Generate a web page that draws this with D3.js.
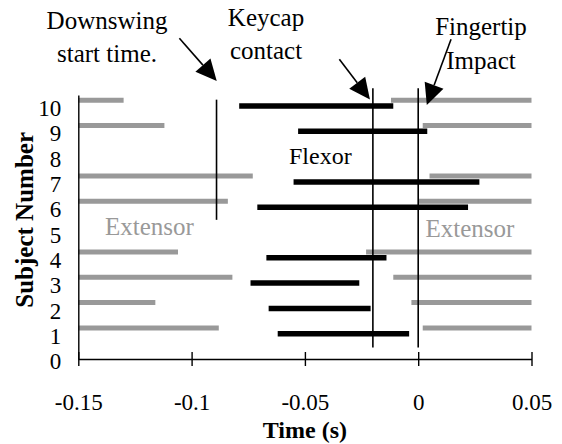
<!DOCTYPE html>
<html>
<head>
<meta charset="utf-8">
<script src="https://cdn.jsdelivr.net/npm/d3@7"></script>
<style>
  html, body { margin: 0; padding: 0; background: #fff; }
  svg { display: block; }
</style>
</head>
<body>
<script>
// ---------- data ----------
const subjects          = [10, 9, 7, 6, 4, 3, 2, 1];
const extensorEarlyEnd  = [-0.130, -0.112, -0.073, -0.084, -0.106, -0.082, -0.116, -0.088];
const flexorStart       = [-0.079, -0.053, -0.055, -0.071, -0.067, -0.074, -0.066, -0.062];
const flexorEnd         = [-0.011, 0.004, 0.027, 0.022, -0.014, -0.026, -0.021, -0.004];
const extensorLateStart = [-0.012, 0.002, 0.005, 0.000, -0.023, -0.011, -0.003, 0.002];

const xTicks = [-0.15, -0.1, -0.05, 0, 0.05];
const xTickLabels = ["-0.15", "-0.1", "-0.05", "0", "0.05"];
const yTicks = [0, 1, 2, 3, 4, 5, 6, 7, 8, 9, 10];

const eventNames = [["Downswing", "start time."], ["Keycap", "contact"], ["Fingertip", "Impact"]];
const eventTimes = [-0.089, -0.02, 0];
const eventLow   = [5.5, 0.45, 0.45];
const eventHigh  = [10.25, 10.7, 10.7];
// arrows: [fromX, fromY, toX, toY] in data units
const arrowFrom = [[-0.1054, 12.68], [-0.0348, 11.85], [0.0145, 12.64]];
const arrowTo   = [[-0.0889, 10.99], [-0.0213, 10.26], [0.0038, 10.04]];

const xMin = -0.15, xMax = 0.05, yMin = 0, yMax = 10.43;

// ---------- drawing ----------
const FONT = '"Liberation Serif", "Times New Roman", Times, serif';
const W = 562, H = 444;
const svg = d3.select("body").append("svg").attr("width", W).attr("height", H)
  .attr("font-family", FONT);

const x = d3.scaleLinear().domain([xMin, xMax]).range([78.3, 531.5]);
const y = d3.scaleLinear().domain([yMin, yMax]).range([359, 95.1]);

const GRAY = "#999999";
const extOffset = 0.23;

// extensor early bars
svg.append("g").selectAll("line").data(subjects).join("line")
  .attr("x1", x(xMin)).attr("x2", (d, i) => x(extensorEarlyEnd[i]))
  .attr("y1", d => y(d + extOffset)).attr("y2", d => y(d + extOffset))
  .attr("stroke", GRAY).attr("stroke-width", 5);

// extensor late bars
svg.append("g").selectAll("line").data(subjects).join("line")
  .attr("x1", (d, i) => x(extensorLateStart[i])).attr("x2", x(xMax))
  .attr("y1", d => y(d + extOffset)).attr("y2", d => y(d + extOffset))
  .attr("stroke", GRAY).attr("stroke-width", 5);

// flexor bars
svg.append("g").selectAll("line").data(subjects).join("line")
  .attr("x1", (d, i) => x(flexorStart[i])).attr("x2", (d, i) => x(flexorEnd[i]))
  .attr("y1", d => y(d)).attr("y2", d => y(d))
  .attr("stroke", "#000").attr("stroke-width", 5.5);

// event vertical lines
svg.append("g").selectAll("line").data(eventTimes).join("line")
  .attr("x1", d => x(d)).attr("x2", d => x(d))
  .attr("y1", (d, i) => y(eventLow[i])).attr("y2", (d, i) => y(eventHigh[i]))
  .attr("stroke", "#000").attr("stroke-width", 1.6);

// x axis
const xAxis = svg.append("g").attr("transform", `translate(0,${y(0)})`)
  .call(d3.axisBottom(x).tickValues(xTicks).tickFormat((d, i) => xTickLabels[i]).tickSizeOuter(0));
xAxis.attr("font-family", FONT);
xAxis.select(".domain").attr("stroke", "#000").attr("stroke-width", 1.4);
xAxis.selectAll(".tick line").attr("y1", -7).attr("y2", 7).attr("stroke", "#000").attr("stroke-width", 1.4);
xAxis.selectAll(".tick text").attr("y", 51).attr("dy", null)
  .attr("font-size", 23).attr("fill", "#000").attr("font-family", FONT);

// y axis
const yAxis = svg.append("g").attr("transform", `translate(${x(xMin)},0)`)
  .call(d3.axisLeft(y).tickValues(yTicks).tickSize(0).tickSizeOuter(0).tickPadding(17));
yAxis.attr("font-family", FONT);
yAxis.select(".domain").attr("stroke", "#000").attr("stroke-width", 1.4);
yAxis.selectAll(".tick text").attr("font-size", 23).attr("fill", "#000").attr("dy", "0.42em")
  .attr("font-family", FONT);

// axis titles
svg.append("text").attr("x", x(-0.05)).attr("y", 438).attr("text-anchor", "middle")
  .attr("font-family", FONT).attr("font-size", 24).attr("font-weight", "bold").text("Time (s)");
svg.append("text").attr("transform", `translate(33,${y(5.5)}) rotate(-90)`)
  .attr("text-anchor", "middle").attr("font-family", FONT).attr("font-size", 25).attr("font-weight", "bold")
  .text("Subject Number");

// series labels
svg.append("text").attr("x", 289).attr("y", 164).attr("font-family", FONT).attr("font-size", 24).attr("fill", "#000").text("Flexor");
svg.append("text").attr("x", 105).attr("y", 235).attr("font-family", FONT).attr("font-size", 25).attr("fill", GRAY).text("Extensor");
svg.append("text").attr("x", 425.5).attr("y", 236.5).attr("font-family", FONT).attr("font-size", 25).attr("fill", GRAY).text("Extensor");

// event annotations
const annotCenters = [107, 266, 481];
const annotBaselines = [[29, 62], [26, 59], [35, 69]];
eventNames.forEach((lines, i) => {
  lines.forEach((t, j) => {
    svg.append("text").attr("x", annotCenters[i]).attr("y", annotBaselines[i][j])
      .attr("text-anchor", "middle").attr("font-family", FONT).attr("font-size", 25).attr("fill", "#000").text(t);
  });
});

// arrows
arrowFrom.forEach((f, i) => {
  const x1 = x(f[0]), y1 = y(f[1]);
  const x2 = x(arrowTo[i][0]), y2 = y(arrowTo[i][1]);
  const ang = Math.atan2(y2 - y1, x2 - x1);
  const L = 21, hw = 10;
  const bx = x2 - L * Math.cos(ang), by = y2 - L * Math.sin(ang);
  svg.append("line").attr("x1", x1).attr("y1", y1).attr("x2", bx).attr("y2", by)
    .attr("stroke", "#000").attr("stroke-width", 1.6);
  const p = [[x2, y2],
             [bx + hw * Math.sin(ang), by - hw * Math.cos(ang)],
             [bx - hw * Math.sin(ang), by + hw * Math.cos(ang)]];
  svg.append("path").attr("d", d3.line()(p) + "Z").attr("fill", "#000");
});
</script>
</body>
</html>
